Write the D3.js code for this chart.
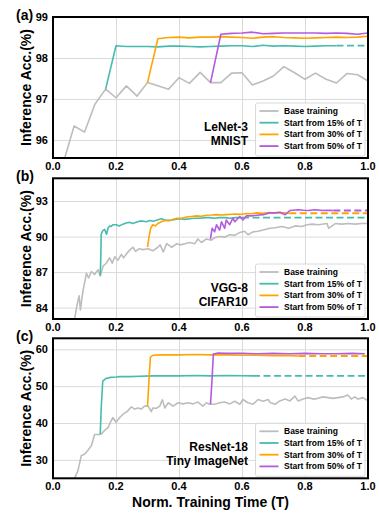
<!DOCTYPE html>
<html>
<head>
<meta charset="utf-8">
<script src="https://cdn.jsdelivr.net/npm/d3@7"></script>
<style>
  html, body { margin: 0; padding: 0; background: #fff; }
  text { font-family: "Liberation Sans", Arial, sans-serif; font-weight: bold; fill: #000; }
</style>
</head>
<body>
<svg id="chart" width="379" height="513"></svg>
<script>
// ---- data: [normalized time, accuracy] ----
const seriesNames = ['Base training', 'Start from 15% of T', 'Start from 30% of T', 'Start from 50% of T'];
const seriesColors = ['#bdbdbd', '#45bcae', '#ffa500', '#b45ade'];
const xTicks = [0, 0.2, 0.4, 0.6, 0.8, 1.0];

// (a) LeNet-3 / MNIST
const aBase = [[0, 93.0], [0.033, 95.45], [0.067, 96.34], [0.1, 96.19], [0.133, 96.87], [0.167, 97.24], [0.2, 97.03],
  [0.233, 97.32], [0.267, 97.07], [0.3, 97.40], [0.333, 97.32], [0.367, 97.24], [0.4, 97.52], [0.433, 97.38],
  [0.467, 97.65], [0.5, 97.40], [0.533, 97.40], [0.567, 97.63], [0.6, 97.64], [0.633, 97.34], [0.667, 97.44],
  [0.7, 97.56], [0.733, 97.79], [0.767, 97.64], [0.8, 97.48], [0.833, 97.63], [0.867, 97.48], [0.9, 97.39],
  [0.933, 97.62], [0.967, 97.59], [1.0, 97.44]];
const aStart15 = [[0.167, 97.24], [0.2, 98.30], [0.233, 98.28], [0.267, 98.28], [0.3, 98.28], [0.333, 98.27],
  [0.367, 98.29], [0.4, 98.29], [0.433, 98.28], [0.467, 98.27], [0.5, 98.28], [0.533, 98.29], [0.567, 98.30],
  [0.6, 98.30], [0.633, 98.28], [0.667, 98.31], [0.7, 98.29], [0.733, 98.30], [0.767, 98.29], [0.8, 98.28],
  [0.833, 98.29], [0.867, 98.30], [0.9, 98.30]];
const aStart30 = [[0.3, 97.40], [0.333, 98.47], [0.367, 98.50], [0.4, 98.51], [0.433, 98.49], [0.467, 98.51],
  [0.5, 98.51], [0.533, 98.52], [0.567, 98.51], [0.6, 98.50], [0.633, 98.48], [0.667, 98.51], [0.7, 98.52],
  [0.733, 98.50], [0.767, 98.49], [0.8, 98.48], [0.833, 98.49], [0.867, 98.50], [0.9, 98.51], [0.933, 98.50],
  [0.967, 98.51], [1.0, 98.53]];
const aStart50 = [[0.5, 97.40], [0.533, 98.58], [0.567, 98.60], [0.6, 98.61], [0.633, 98.63], [0.667, 98.59],
  [0.7, 98.60], [0.733, 98.61], [0.767, 98.61], [0.8, 98.61], [0.833, 98.61], [0.867, 98.60], [0.9, 98.61],
  [0.933, 98.60], [0.967, 98.58], [1.0, 98.61]];

// (b) VGG-8 / CIFAR10
const bBase = [[0, 76.5], [0.035, 80.5], [0.069, 83.1], [0.076, 84.2], [0.083, 85.0], [0.087, 83.8], [0.095, 85.4],
  [0.101, 86.2], [0.106, 86.9], [0.113, 86.5], [0.122, 87.05], [0.132, 86.8], [0.143, 87.2], [0.15, 86.7],
  [0.159, 87.5], [0.169, 87.75], [0.18, 88.2], [0.188, 87.75], [0.196, 88.3], [0.206, 88.0], [0.217, 88.5],
  [0.224, 88.2], [0.235, 88.6], [0.245, 88.9], [0.254, 89.1], [0.262, 88.75], [0.273, 88.97], [0.286, 88.9],
  [0.302, 88.97], [0.317, 88.8], [0.333, 89.1], [0.34, 89.3], [0.35, 88.7], [0.361, 89.4], [0.377, 89.1],
  [0.393, 89.4], [0.403, 89.3], [0.419, 89.4], [0.434, 89.5], [0.45, 89.4], [0.46, 89.8], [0.471, 89.5],
  [0.487, 89.8], [0.503, 89.7], [0.513, 89.9], [0.529, 90.0], [0.545, 89.95], [0.561, 90.15], [0.577, 90.1],
  [0.593, 90.35], [0.608, 90.45], [0.619, 90.15], [0.635, 90.4], [0.651, 90.45], [0.667, 90.55], [0.689, 90.7],
  [0.705, 90.75], [0.727, 90.85], [0.748, 90.7], [0.769, 90.9], [0.79, 90.85], [0.806, 91.0], [0.822, 91.05],
  [0.843, 91.0], [0.87, 91.1], [0.875, 90.7], [0.896, 91.1], [0.917, 91.05], [0.938, 91.1], [0.959, 91.05],
  [0.98, 91.1], [1.0, 91.1]];
const bStart15 = [[0.15, 86.7], [0.152, 88.5], [0.153, 90.2], [0.158, 90.5], [0.164, 90.6], [0.17, 90.2],
  [0.175, 90.75], [0.18, 90.9], [0.185, 90.85], [0.19, 91.0], [0.201, 91.0], [0.21, 90.9], [0.222, 91.05],
  [0.232, 91.15], [0.243, 91.2], [0.253, 91.1], [0.264, 91.2], [0.275, 91.3], [0.286, 91.3], [0.296, 91.25],
  [0.307, 91.35], [0.318, 91.3], [0.328, 91.37], [0.344, 91.5], [0.355, 91.4], [0.371, 91.35], [0.387, 91.45],
  [0.403, 91.5], [0.418, 91.45], [0.434, 91.5], [0.45, 91.55], [0.466, 91.55], [0.482, 91.6], [0.498, 91.6],
  [0.513, 91.55], [0.529, 91.6], [0.545, 91.6], [0.56, 91.55], [0.58, 91.6], [0.6, 91.6]];
const bStart30 = [[0.3, 89.1], [0.305, 90.0], [0.31, 90.7], [0.317, 91.0], [0.325, 90.9], [0.333, 91.1],
  [0.347, 91.3], [0.36, 91.35], [0.376, 91.4], [0.393, 91.55], [0.408, 91.55], [0.424, 91.65], [0.44, 91.7],
  [0.455, 91.75], [0.471, 91.72], [0.487, 91.8], [0.503, 91.82], [0.519, 91.85], [0.535, 91.82], [0.55, 91.85],
  [0.566, 91.88], [0.582, 91.9], [0.598, 91.88], [0.614, 91.95], [0.63, 91.93], [0.646, 92.0], [0.665, 91.97],
  [0.683, 92.03], [0.7, 92.0], [0.72, 92.02], [0.75, 91.97]];
const bStart50 = [[0.5, 89.8], [0.505, 90.7], [0.513, 90.4], [0.519, 91.0], [0.529, 90.55], [0.535, 91.25],
  [0.545, 90.7], [0.55, 91.4], [0.561, 91.0], [0.571, 91.55], [0.577, 91.25], [0.593, 91.7], [0.603, 91.4],
  [0.614, 91.75], [0.63, 91.75], [0.646, 91.8], [0.667, 91.85], [0.688, 92.0], [0.705, 92.0], [0.72, 92.05],
  [0.737, 91.85], [0.752, 92.2], [0.778, 92.27], [0.795, 92.22], [0.81, 92.2], [0.832, 92.27], [0.857, 92.2],
  [0.87, 92.22], [0.89, 92.2]];

// (c) ResNet-18 / Tiny ImageNet
const cBase = [[0, 20], [0.069, 25.1], [0.079, 27.0], [0.09, 31.2], [0.1, 31.5], [0.111, 32.6], [0.122, 33.9],
  [0.132, 36.9], [0.148, 36.9], [0.153, 37.0], [0.164, 38.0], [0.175, 38.8], [0.182, 40.2], [0.19, 41.5],
  [0.2, 40.2], [0.212, 41.5], [0.222, 42.4], [0.235, 43.1], [0.249, 44.4], [0.259, 43.8], [0.27, 44.1],
  [0.28, 43.8], [0.291, 44.6], [0.302, 44.6], [0.312, 43.1], [0.317, 44.1], [0.328, 44.0], [0.339, 44.6],
  [0.347, 46.3], [0.355, 44.1], [0.366, 45.5], [0.381, 44.6], [0.397, 45.5], [0.413, 45.2], [0.429, 45.5],
  [0.445, 45.2], [0.46, 45.7], [0.476, 44.6], [0.487, 45.5], [0.497, 45.1], [0.513, 45.1], [0.529, 45.5],
  [0.545, 45.7], [0.561, 45.2], [0.577, 45.9], [0.593, 45.1], [0.603, 46.4], [0.619, 45.5], [0.635, 45.1],
  [0.651, 46.4], [0.667, 45.9], [0.683, 46.4], [0.689, 45.6], [0.705, 45.1], [0.72, 46.0], [0.737, 46.5],
  [0.752, 46.0], [0.768, 47.3], [0.778, 46.0], [0.794, 46.5], [0.81, 46.9], [0.826, 46.5], [0.841, 46.7],
  [0.857, 47.1], [0.873, 46.9], [0.889, 46.7], [0.905, 46.9], [0.92, 47.1], [0.936, 47.6], [0.947, 46.5],
  [0.958, 47.1], [0.968, 46.5], [0.984, 46.9], [1.0, 46.0]];
const cStart15 = [[0.15, 37.0], [0.153, 44.0], [0.158, 51.4], [0.168, 52.1], [0.183, 52.4], [0.2, 52.5],
  [0.212, 52.6], [0.243, 52.6], [0.275, 52.7], [0.317, 52.8], [0.349, 52.8], [0.4, 52.8], [0.45, 52.9],
  [0.5, 52.8], [0.55, 52.9], [0.6, 52.85], [0.635, 52.8]];
const cStart30 = [[0.3, 44.6], [0.305, 52.0], [0.309, 57.8], [0.317, 58.4], [0.339, 58.5], [0.4, 58.5],
  [0.45, 58.6], [0.5, 58.5], [0.55, 58.5], [0.6, 58.4], [0.65, 58.4], [0.7, 58.3], [0.75, 58.3], [0.78, 58.2]];
const cStart50 = [[0.5, 45.1], [0.505, 52.0], [0.509, 58.7], [0.524, 59.0], [0.55, 58.9], [0.6, 58.9],
  [0.65, 58.8], [0.7, 58.9], [0.75, 58.8], [0.8, 58.9], [0.85, 58.8], [0.9, 58.8], [0.95, 58.9], [0.99, 58.8]];

const aTicks = [96, 97, 98, 99];
const bTicks = [84, 87, 90, 93];
const cTicks = [30, 40, 50, 60];

const panels = [
  { tag: '(a)', model: ['LeNet-3', 'MNIST'], top: 17, bottom: 158, yDomain: [95.56, 99], yTicks: aTicks,
    series: [aBase, aStart15, aStart30, aStart50], dashed: [false, true, false, false] },
  { tag: '(b)', model: ['VGG-8', 'CIFAR10'], top: 178.3, bottom: 319, yDomain: [83.04, 94.92], yTicks: bTicks,
    series: [bBase, bStart15, bStart30, bStart50], dashed: [false, true, true, true] },
  { tag: '(c)', model: ['ResNet-18', 'Tiny ImageNet'], top: 338.3, bottom: 478.3, yDomain: [25, 63], yTicks: cTicks,
    series: [cBase, cStart15, cStart30, cStart50], dashed: [false, true, true, false] },
];

const svg = d3.select('#chart');
const left = 53, right = 368;
const x = d3.scaleLinear().domain([0, 1]).range([left, right]);

panels.forEach((p, i) => {
  const y = d3.scaleLinear().domain(p.yDomain).range([p.bottom, p.top]);
  const g = svg.append('g');

  // grid
  g.append('g').call(d3.axisBottom(x).tickValues(xTicks).tickSize(-(p.bottom - p.top)).tickFormat(''))
    .attr('transform', `translate(0,${p.bottom})`)
    .call(s => s.select('.domain').remove())
    .call(s => s.selectAll('line').attr('stroke', '#dadada').attr('stroke-width', 1));
  g.append('g').call(d3.axisLeft(y).tickValues(p.yTicks).tickSize(-(right - left)).tickFormat(''))
    .attr('transform', `translate(${left},0)`)
    .call(s => s.select('.domain').remove())
    .call(s => s.selectAll('line').attr('stroke', '#dadada').attr('stroke-width', 1));

  // tick labels
  g.selectAll('.xt').data(xTicks).enter().append('text')
    .attr('x', d => x(d)).attr('y', p.bottom + 12).attr('text-anchor', 'middle')
    .attr('font-size', 11).text(d => d3.format('.1f')(d));
  g.selectAll('.yt').data(p.yTicks).enter().append('text')
    .attr('x', left - 5).attr('y', d => y(d) + 4).attr('text-anchor', 'end')
    .attr('font-size', 11).text(d => d);

  // clip
  const clipId = 'clip' + i;
  svg.append('clipPath').attr('id', clipId).append('rect')
    .attr('x', left).attr('y', p.top).attr('width', right - left).attr('height', p.bottom - p.top);
  const lines = g.append('g').attr('clip-path', `url(#${clipId})`);
  const line = d3.line().x(d => x(d[0])).y(d => y(d[1]));

  p.series.forEach((s, k) => {
    lines.append('path').datum(s).attr('d', line)
      .attr('fill', 'none').attr('stroke', seriesColors[k]).attr('stroke-width', 1.6)
      .attr('stroke-linejoin', 'round');
    if (p.dashed[k]) {
      const last = s[s.length - 1];
      lines.append('path').datum([last, [1.0, last[1]]]).attr('d', line)
        .attr('fill', 'none').attr('stroke', seriesColors[k]).attr('stroke-width', 1.8)
        .attr('stroke-dasharray', '7,3.5');
    }
  });

  // frame
  g.append('rect').attr('x', left).attr('y', p.top).attr('width', right - left).attr('height', p.bottom - p.top)
    .attr('fill', 'none').attr('stroke', '#000').attr('stroke-width', 2);

  // panel tag
  g.append('text').attr('x', 16).attr('y', p.top + 3).attr('font-size', 14).text(p.tag);

  // y title
  g.append('text').attr('transform', `translate(31,${(p.top + p.bottom) / 2}) rotate(-90)`)
    .attr('text-anchor', 'middle').attr('font-size', 14).text('Inference Acc.(%)');

  // model text
  g.selectAll('.mt').data(p.model).enter().append('text')
    .attr('x', 248).attr('y', (d, j) => p.bottom - 27 + j * 14).attr('text-anchor', 'end')
    .attr('font-size', 12).text(d => d);

  // legend
  const lg = g.append('g').attr('transform', `translate(255.5,${p.bottom - 55})`);
  lg.append('rect').attr('width', 109.5).attr('height', 53).attr('rx', 2)
    .attr('fill', '#fff').attr('fill-opacity', 0.85).attr('stroke', '#cfcfcf').attr('stroke-width', 0.8);
  seriesNames.forEach((name, k) => {
    const cy = 8 + k * 11.7;
    lg.append('line').attr('x1', 4).attr('x2', 23).attr('y1', cy).attr('y2', cy)
      .attr('stroke', seriesColors[k]).attr('stroke-width', 1.8);
    lg.append('text').attr('x', 28.5).attr('y', cy + 3).attr('font-size', 8.5).text(name);
  });
});

// x title
svg.append('text').attr('x', (left + right) / 2).attr('y', 507).attr('text-anchor', 'middle')
  .attr('font-size', 14).text('Norm. Training Time (T)');
</script>
</body>
</html>
